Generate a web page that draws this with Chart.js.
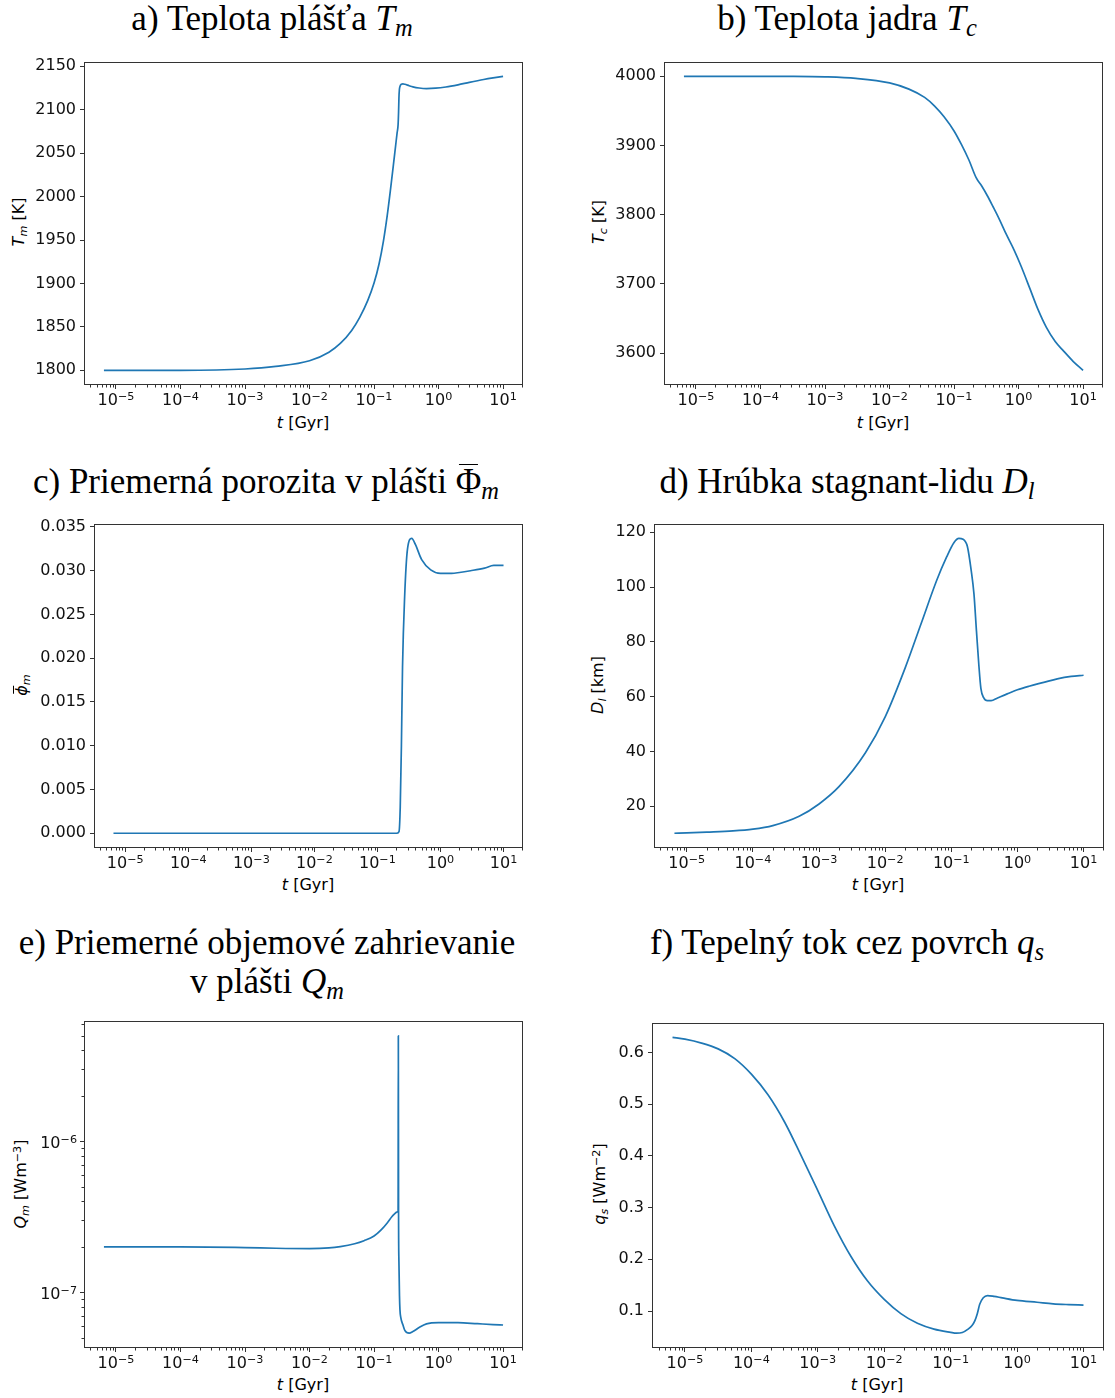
<!DOCTYPE html>
<html><head><meta charset="utf-8">
<script src="https://cdn.jsdelivr.net/npm/chart.js@4.4.1/dist/chart.umd.min.js"></script>
<style>
html,body{margin:0;padding:0;background:#fff;}
#page{position:relative;width:1115px;height:1398px;overflow:hidden;background:#fff;}
canvas{position:absolute;}
.title{position:absolute;font-family:"Liberation Serif","DejaVu Serif",serif;font-size:35px;line-height:40px;white-space:nowrap;color:#000;transform:translateX(-50%);}
.sub{font-size:0.7em;position:relative;top:0.25em;}
.sup{font-size:0.7em;position:relative;top:-0.45em;}
.bar{position:relative;display:inline-block;}
.bar::before{content:"";position:absolute;left:12%;right:12%;top:2px;border-top:1.6px solid #000;}
.ybar{position:relative;display:inline-block;}
.ybar::before{content:"";position:absolute;left:18%;right:5%;top:1px;border-top:1.2px solid #000;}
.xl,.yl{position:absolute;font-family:"DejaVu Sans",sans-serif;font-size:16px;line-height:20px;white-space:nowrap;color:#000;}
.xl{transform:translate(-50%,-50%);}
.yl{transform:translate(-50%,-50%) rotate(-90deg);}
</style></head>
<body><div id="page">
<div class="title" style="left:272px;top:-1px">a) Teplota plášťa <i>T<span class="sub">m</span></i></div>
<div class="title" style="left:847px;top:-1px">b) Teplota jadra <i>T<span class="sub">c</span></i></div>
<div class="title" style="left:266px;top:462px">c) Priemerná porozita v plášti <span class="bar">Φ</span><i><span class="sub">m</span></i></div>
<div class="title" style="left:847px;top:462px">d) Hrúbka stagnant-lidu <i>D<span class="sub">l</span></i></div>
<div class="title" style="left:267px;top:923px">e) Priemerné objemové zahrievanie</div>
<div class="title" style="left:267px;top:962px">v plášti <i>Q<span class="sub">m</span></i></div>
<div class="title" style="left:847px;top:923px">f) Tepelný tok cez povrch <i>q<span class="sub">s</span></i></div>

<div class="xl" style="left:303px;top:423px"><i>t</i> [Gyr]</div>
<div class="xl" style="left:883px;top:423px"><i>t</i> [Gyr]</div>
<div class="xl" style="left:308px;top:885px"><i>t</i> [Gyr]</div>
<div class="xl" style="left:878px;top:885px"><i>t</i> [Gyr]</div>
<div class="xl" style="left:303px;top:1385px"><i>t</i> [Gyr]</div>
<div class="xl" style="left:877px;top:1385px"><i>t</i> [Gyr]</div>

<div class="yl" style="left:20px;top:222px"><i>T<span class="sub">m</span></i> [K]</div>
<div class="yl" style="left:600px;top:222px"><i>T<span class="sub">c</span></i> [K]</div>
<div class="yl" style="left:23px;top:685px"><i><span class="ybar">ϕ</span><span class="sub">m</span></i></div>
<div class="yl" style="left:599px;top:685px"><i>D<span class="sub">l</span></i> [km]</div>
<div class="yl" style="left:22px;top:1184px"><i>Q<span class="sub">m</span></i> [Wm<span class="sup">−3</span>]</div>
<div class="yl" style="left:601px;top:1184px"><i>q<span class="sub">s</span></i> [Wm<span class="sup">−2</span>]</div>
</div>
<script>
// ---- data (time t in Gyr) ----
const tTm = [6.5e-6, 1e-5, 1e-4, 1e-3, 3e-3, 1e-2, 2e-2, 3e-2, 4.5e-2, 6e-2, 8e-2, 0.1, 0.12, 0.14, 0.16, 0.18, 0.2, 0.215, 0.228, 0.236,
  0.24, 0.243, 0.247, 0.253, 0.265, 0.28, 0.3, 0.35, 0.4, 0.5, 0.65, 0.9, 1.3, 2, 3, 5, 7, 10];
const mantleTemp = [1800, 1800, 1800, 1801.5, 1804.5, 1811, 1820.9, 1830.9, 1845.9, 1860.9, 1880.5, 1900.4, 1923, 1949.1, 1978.1, 2008.3, 2037.2, 2057.3, 2073.6, 2082.9,
  2097, 2113, 2123, 2127, 2129.3, 2129.7, 2129.3, 2127.6, 2126.3, 2125, 2124.4, 2124.8, 2126.2, 2128.7, 2131.5, 2134.8, 2136.7, 2138.5];

const tTc = [6.5e-6, 1e-5, 1e-4, 3e-4, 1e-3, 3e-3, 1e-2, 2e-2, 3.5e-2, 5e-2, 7e-2, 0.1, 0.13, 0.17, 0.22, 0.27, 0.33, 0.4, 0.5, 0.65,
  0.85, 1.1, 1.5, 2, 2.7, 3.7, 5, 7, 10];
const coreTemp = [4000, 4000, 4000, 3999.9, 3999.2, 3997, 3990.5, 3981.5, 3969.5, 3957, 3941.5, 3921, 3901.5, 3879, 3853.5, 3841, 3827, 3812, 3794, 3771,
  3749, 3725, 3693, 3663, 3637, 3616.5, 3602.8, 3588, 3575];

const tPhi = [6.5e-6, 1e-5, 2e-5, 5e-5, 1e-4, 2e-4, 5e-4, 1e-3, 2e-3, 5e-3, 1e-2, 2e-2, 3e-2, 5e-2, 7e-2,
  0.1, 0.13, 0.16, 0.2, 0.22, 0.23, 0.24, 0.25, 0.27, 0.3, 0.35, 0.4, 0.5, 0.7, 1, 1.5, 2, 3, 5, 7, 10];
const porosity = [0, 0, 0, 0, 0, 0, 0, 0, 0, 0, 0, 0, 0, 0, 0,
  0, 0, 0, 0, 0.0002, 0.003, 0.010, 0.019, 0.027, 0.0325, 0.0337, 0.0330, 0.0313, 0.0301, 0.0297, 0.0297, 0.0298, 0.0300, 0.0303, 0.0306, 0.0306];

const tDl = [6.5e-6, 1e-5, 2e-5, 5e-5, 1e-4, 2e-4, 5e-4, 1e-3, 2e-3, 5e-3, 1e-2, 2e-2, 3.5e-2, 6e-2, 0.085, 0.11, 0.13, 0.15, 0.175, 0.2,
  0.22, 0.24, 0.26, 0.28, 0.31, 0.35, 0.4, 0.5, 0.7, 1, 1.5, 2.5, 4, 6.5, 10];
const lidThickness = [10.1, 10.25, 10.52, 10.95, 11.6, 12.9, 16.3, 20.8, 27.1, 39.4, 52.6, 70.4, 86.7, 102.4, 111, 116.3, 117.8, 117.5, 114.8, 106,
  97.5, 84, 72, 63, 59.5, 58.5, 58.5, 59.5, 61, 62.5, 63.8, 65.2, 66.5, 67.4, 67.8];

const tHeat = [6.5e-6, 1e-5, 1e-4, 1e-3, 3e-3, 1e-2, 2e-2, 3e-2, 5e-2, 7e-2, 0.1, 0.13, 0.16, 0.19, 0.21, 0.225, 0.236, 0.238, 0.24, 0.243,
  0.248, 0.252, 0.26, 0.28, 0.3, 0.35, 0.4, 0.5, 0.65, 1, 2, 4, 7, 10];
const volHeating = [2.0e-7, 2.0e-7, 2.0e-7, 1.98e-7, 1.96e-7, 1.95e-7, 1.97e-7, 2.01e-7, 2.1e-7, 2.2e-7, 2.36e-7, 2.6e-7, 2.88e-7, 3.18e-7, 3.32e-7, 3.4e-7, 3.46e-7, 5.0e-6, 3.2e-7, 1.6e-7,
  9.5e-8, 7.7e-8, 6.8e-8, 6.1e-8, 5.6e-8, 5.37e-8, 5.5e-8, 5.85e-8, 6.18e-8, 6.3e-8, 6.3e-8, 6.2e-8, 6.12e-8, 6.08e-8];

const tQs = [6.5e-6, 1e-5, 1.78e-5, 3.16e-5, 5.62e-5, 1e-4, 1.78e-4, 3.16e-4, 5.62e-4, 1e-3, 1.78e-3, 3.16e-3, 5.62e-3, 1e-2, 1.78e-2, 3.16e-2, 5.62e-2,
  0.1, 0.122, 0.15, 0.183, 0.21, 0.231, 0.252, 0.274, 0.31, 0.359, 0.45, 0.6, 1, 2, 3.5, 6, 10];
const surfaceFlux = [0.629, 0.6255, 0.618, 0.6068, 0.588, 0.558, 0.518, 0.4655, 0.4005, 0.333, 0.2643, 0.2055, 0.158, 0.1225, 0.095, 0.0763, 0.065,
  0.0588, 0.0572, 0.0585, 0.065, 0.072, 0.081, 0.095, 0.113, 0.1256, 0.130, 0.1285, 0.1255, 0.1206, 0.117, 0.114, 0.1125, 0.1115];

// ---- tick labels ----
const xTickVals = [1e-5, 1e-4, 1e-3, 1e-2, 1e-1, 1, 10];
const xTickLabels = ['10⁻⁵', '10⁻⁴', '10⁻³', '10⁻²', '10⁻¹', '10⁰', '10¹'];
const tmTicks = [1800, 1850, 1900, 1950, 2000, 2050, 2100, 2150];
const tmLabels = ['1800', '1850', '1900', '1950', '2000', '2050', '2100', '2150'];
const tcTicks = [3600, 3700, 3800, 3900, 4000];
const tcLabels = ['3600', '3700', '3800', '3900', '4000'];
const phiTicks = [0, 0.005, 0.01, 0.015, 0.02, 0.025, 0.03, 0.035];
const phiLabels = ['0.000', '0.005', '0.010', '0.015', '0.020', '0.025', '0.030', '0.035'];
const dlTicks = [20, 40, 60, 80, 100, 120];
const dlLabels = ['20', '40', '60', '80', '100', '120'];
const qmTicks = [1e-7, 1e-6];
const qmLabels = ['10⁻⁷', '10⁻⁶'];
const qsTicks = [0.1, 0.2, 0.3, 0.4, 0.5, 0.6];
const qsLabels = ['0.1', '0.2', '0.3', '0.4', '0.5', '0.6'];

// ---- layout of the six axes boxes ----
const panels = [
  {L: 84, R: 523, T: 60, B: 385, t: tTm, y: mantleTemp, ticks: tmTicks, labels: tmLabels, log: false},
  {L: 664, R: 1103, T: 60, B: 385, t: tTc, y: coreTemp, ticks: tcTicks, labels: tcLabels, log: false},
  {L: 94, R: 523, T: 522, B: 848, t: tPhi, y: porosity, ticks: phiTicks, labels: phiLabels, log: false},
  {L: 654, R: 1104, T: 522, B: 848, t: tDl, y: lidThickness, ticks: dlTicks, labels: dlLabels, log: false},
  {L: 84, R: 523, T: 1021, B: 1348, t: tHeat, y: volHeating, ticks: qmTicks, labels: qmLabels, log: true},
  {L: 652, R: 1104, T: 1021, B: 1348, t: tQs, y: surfaceFlux, ticks: qsTicks, labels: qsLabels, log: false}
];

Chart.defaults.font.family = '"DejaVu Sans", sans-serif';
Chart.defaults.font.size = 16;
Chart.defaults.color = '#111';

function range(vals, log) {
  let lo = Math.min(...vals), hi = Math.max(...vals);
  if (log) { lo = Math.log10(lo); hi = Math.log10(hi); }
  const m = (hi - lo) * 0.05;
  lo -= m; hi += m;
  return log ? [Math.pow(10, lo), Math.pow(10, hi)] : [lo, hi];
}

const SUP = {'⁻': '−', '⁰': '0', '¹': '1', '²': '2', '³': '3', '⁴': '4', '⁵': '5', '⁶': '6', '⁷': '7', '⁸': '8', '⁹': '9'};
function splitPow(lbl) {
  const chars = [...lbl];
  return [chars.filter(c => !SUP[c]).join(''), chars.filter(c => SUP[c]).map(c => SUP[c]).join('')];
}

const frameAndLog = {
  id: 'frameAndLog',
  afterDraw(chart, args, opts) {
    const ctx = chart.ctx, a = chart.chartArea;
    ctx.save();
    ctx.strokeStyle = '#333';
    ctx.lineWidth = 1;
    for (const id of ['x', 'y']) {
      const s = chart.scales[id];
      if (s.type !== 'logarithmic') continue;
      const lo = Math.floor(Math.log10(s.min)), hi = Math.ceil(Math.log10(s.max));
      for (let e = lo; e <= hi; e++) {
        for (let k = 2; k <= 9; k++) {
          const v = k * Math.pow(10, e);
          if (v < s.min || v > s.max) continue;
          const p = Math.round(s.getPixelForValue(v)) + 0.5;
          ctx.beginPath();
          if (id === 'x') { ctx.moveTo(p, a.bottom); ctx.lineTo(p, a.bottom + 2.5); }
          else { ctx.moveTo(a.left, p); ctx.lineTo(a.left - 2.5, p); }
          ctx.stroke();
        }
      }
      const vals = id === 'x' ? xTickVals : opts.yVals;
      const lbls = id === 'x' ? xTickLabels : opts.yLabels;
      ctx.fillStyle = '#111';
      ctx.textBaseline = 'alphabetic';
      ctx.textAlign = 'left';
      vals.forEach((v, i) => {
        const [base, exp] = splitPow(lbls[i]);
        ctx.font = '16px "DejaVu Sans"';
        const wb = ctx.measureText(base).width;
        ctx.font = '11.2px "DejaVu Sans"';
        const we = ctx.measureText(exp).width;
        const p = s.getPixelForValue(v);
        let x0, yb;
        if (id === 'x') { x0 = p - (wb + we) / 2; yb = a.bottom + 20; }
        else { x0 = a.left - 7 - (wb + we); yb = p + 7; }
        ctx.font = '16px "DejaVu Sans"';
        ctx.fillText(base, x0, yb);
        ctx.font = '11.2px "DejaVu Sans"';
        ctx.fillText(exp, x0 + wb, yb - 5.5);
      });
    }
    ctx.strokeRect(Math.round(a.left) + 0.5, Math.round(a.top) + 0.5,
      Math.round(a.right - a.left) - 1, Math.round(a.bottom - a.top) - 1);
    ctx.restore();
  }
};

const page = document.getElementById('page');
const xr = [Math.pow(10, -5.496), Math.pow(10, 1.309)];
panels.forEach((p) => {
  const padL = 84, padT = 12, padR = 8, padB = 60;
  const cv = document.createElement('canvas');
  const w = p.R - p.L + padL + padR, h = p.B - p.T + padT + padB;
  cv.width = w; cv.height = h;
  cv.style.left = (p.L - padL) + 'px';
  cv.style.top = (p.T - padT) + 'px';
  cv.style.width = w + 'px'; cv.style.height = h + 'px';
  page.appendChild(cv);
  const yr = range(p.y, p.log);
  const tickGrid = {display: true, drawOnChartArea: false, drawTicks: true, tickLength: 4, color: '#333', lineWidth: 1};
  new Chart(cv, {
    type: 'line',
    data: {datasets: [{
      data: p.t.map((t, i) => ({x: t, y: p.y[i]})),
      borderColor: '#1f77b4', borderWidth: 1.7, pointRadius: 0, fill: false,
      cubicInterpolationMode: 'monotone'
    }]},
    options: {
      responsive: false, animation: false, devicePixelRatio: 1,
      layout: {padding: {left: 0, top: padT, right: padR, bottom: 0}},
      plugins: {legend: {display: false}, tooltip: {enabled: false},
        frameAndLog: {yVals: p.ticks, yLabels: p.labels}},
      scales: {
        x: {
          type: 'logarithmic', min: xr[0], max: xr[1],
          grid: tickGrid, border: {display: false},
          afterBuildTicks: (s) => { s.ticks = xTickVals.map(v => ({value: v})); },
          afterFit: (s) => { s.height = padB; },
          ticks: {display: false, autoSkip: false, maxRotation: 0}
        },
        y: {
          type: p.log ? 'logarithmic' : 'linear', min: yr[0], max: yr[1],
          grid: tickGrid, border: {display: false},
          afterBuildTicks: (s) => { s.ticks = p.ticks.map(v => ({value: v})); },
          afterFit: (s) => { s.width = padL; },
          ticks: {display: !p.log, autoSkip: false, padding: 4, color: '#111',
            callback: (v, i) => p.labels[i]}
        }
      }
    },
    plugins: [frameAndLog]
  });
});
</script>
</body></html>
